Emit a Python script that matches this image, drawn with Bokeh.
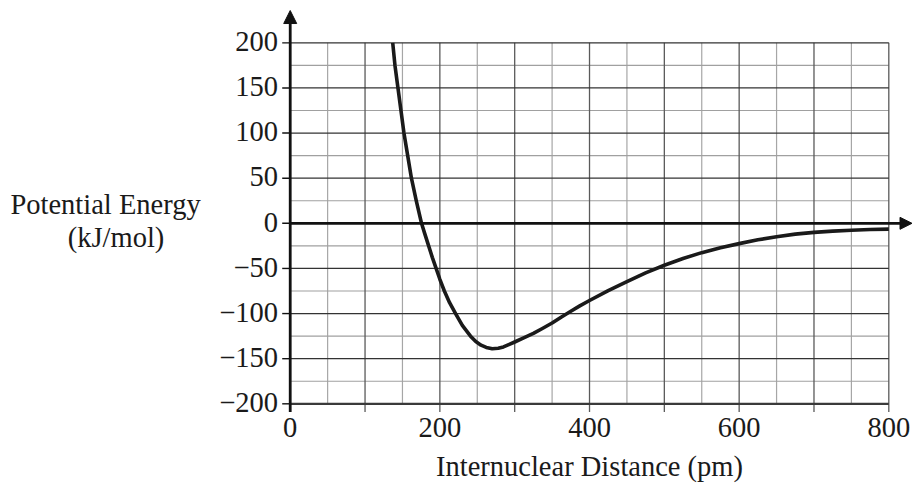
from bokeh.plotting import figure
from bokeh.models import Range1d, Arrow, NormalHead
from bokeh.core.properties import value
from bokeh.embed import file_html
from bokeh.resources import INLINE

# ---- data ----
distance_pm = [137, 140, 144, 148, 152, 157, 162, 168.5, 175.5, 180, 185, 190,
               195, 200, 206, 213, 221, 230, 241, 248, 255, 262, 270, 278,
               285, 292, 300, 312, 325, 337, 350, 362, 375, 387, 400, 425,
               450, 475, 500, 525, 550, 575, 600, 625, 650, 675, 700, 725,
               750, 775, 800]
energy_kj = [200, 175, 150, 125, 100, 75, 50, 25, 0, -12, -25, -38,
             -50, -62, -75, -88, -100, -113, -125, -131, -135, -137.5, -139, -138.5,
             -137, -134.5, -131.5, -127, -122, -116.5, -110.5, -104, -97.5, -91.5, -85.5, -74.5,
             -64.5, -55, -46.5, -39, -32.5, -27, -22.5, -18.3, -14.8, -12, -10, -8.6,
             -7.6, -6.9, -6.4]

x_tick_values = [0, 200, 400, 600, 800]
y_tick_values = [200, 150, 100, 50, 0, -50, -100, -150, -200]
x_title = "Internuclear Distance (pm)"
y_title_lines = ["Potential Energy", "(kJ/mol)"]

FONT = value("Liberation Serif")
FS = value("28.5px")
TXT = "#1a1a1a"

p = figure(width=913, height=484,
           x_range=Range1d(-387.2, 833.0), y_range=Range1d(-289.4, 246.9),
           x_axis_location=None, y_axis_location=None,
           output_backend="svg", toolbar_location=None, min_border=0)
p.grid.visible = False
p.outline_line_color = None
p.background_fill_color = "white"
p.border_fill_color = "white"

# grid
minor_x = [x for x in range(50, 800, 100)]
major_x = [x for x in range(100, 801, 100)]
minor_y = [y for y in range(-175, 200, 50)]
major_y = [y for y in range(-150, 201, 50) if y != 0]

p.segment(x0=minor_x, y0=[-200] * len(minor_x), x1=minor_x, y1=[200] * len(minor_x),
          line_color="#a6a6a6", line_width=1.2)
p.segment(x0=[0] * len(minor_y), y0=minor_y, x1=[800] * len(minor_y), y1=minor_y,
          line_color="#a0a0a0", line_width=1.2)
p.segment(x0=major_x, y0=[-209] * len(major_x), x1=major_x, y1=[200] * len(major_x),
          line_color="#5a5a5a", line_width=1.3)
p.segment(x0=[0] * len(major_y), y0=major_y, x1=[800] * len(major_y), y1=major_y,
          line_color="#333333", line_width=1.3)
# bottom line
p.segment(x0=[0], y0=[-200], x1=[800], y1=[-200], line_color="#3a3a3a", line_width=2.2)

# y ticks
p.segment(x0=[-10.7] * len(y_tick_values), y0=y_tick_values,
          x1=[0] * len(y_tick_values), y1=y_tick_values,
          line_color="#111111", line_width=1.4)

# curve
p.line(distance_pm, energy_kj, line_width=3.6, line_color="#1a1a1a", line_join="round")

# axes with arrows
p.add_layout(Arrow(end=NormalHead(size=13, fill_color="#111111", line_color="#111111"),
                   x_start=0, y_start=-209, x_end=0, y_end=235.8,
                   line_width=2.8, line_color="#111111"))
p.add_layout(Arrow(end=NormalHead(size=12, fill_color="#111111", line_color="#111111"),
                   x_start=0, y_start=0, x_end=831, y_end=0,
                   line_width=2.8, line_color="#111111"))

# tick labels
y_labels = [("\u2212" if t < 0 else "") + str(abs(t)) for t in y_tick_values]
p.text(x=[-16.3] * len(y_tick_values), y=[t + 1.4 for t in y_tick_values], text=y_labels,
       text_font=FONT, text_font_size=FS, text_align="right",
       text_baseline="alphabetic", text_color=TXT)
p.text(x=x_tick_values, y=[-226.6] * len(x_tick_values),
       text=[str(t) for t in x_tick_values],
       text_font=FONT, text_font_size=FS, text_align="center",
       text_baseline="alphabetic", text_color=TXT)

# titles
p.text(x=[400], y=[-270], text=[x_title], text_font=FONT, text_font_size=FS,
       text_align="center", text_baseline="alphabetic", text_color=TXT)
p.text(x=[-246.8, -232.8], y=[20.6, -15.9], text=y_title_lines, text_font=FONT,
       text_font_size=FS, text_align="center", text_baseline="alphabetic", text_color=TXT)

open("out.html", "w").write(file_html(p, INLINE))
